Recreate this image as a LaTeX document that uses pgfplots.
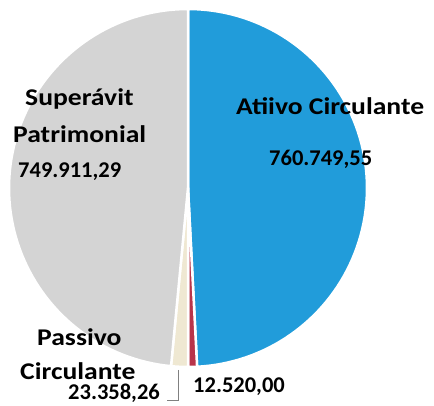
\documentclass[border=0pt]{standalone}
\usepackage{pgfplots}
\usepackage{pgfplotstable}
\pgfplotsset{compat=1.18}
\usepackage{fontspec}
\setmainfont{Carlito}
\newfontfamily\lblfont[FakeStretch=1.15]{Carlito}
\definecolor{cblue}{HTML}{219CDA}
\definecolor{cgray}{HTML}{D4D4D4}
\definecolor{ccream}{HTML}{EFE8D2}
\definecolor{cred}{HTML}{B8344A}
\tikzset{
  lbl/.style={anchor=base west, inner sep=0pt, font=\lblfont\bfseries\fontsize{24}{26}\selectfont},
  num/.style={anchor=base west, inner sep=0pt, font=\bfseries\fontsize{22.5}{24}\selectfont},
}
\pgfplotstableread{
value
760749.55
12520.00
23358.26
749911.29
}\piedata
\pgfplotstablegetelem{0}{value}\of\piedata \let\vA\pgfplotsretval
\pgfplotstablegetelem{1}{value}\of\piedata \let\vB\pgfplotsretval
\pgfplotstablegetelem{2}{value}\of\piedata \let\vC\pgfplotsretval
\pgfplotstablegetelem{3}{value}\of\piedata \let\vD\pgfplotsretval
\edef\tot{\fpeval{\vA+\vB+\vC+\vD}}
\edef\aA{90}
\edef\aB{\fpeval{round(\aA-360*\vA/\tot,4)}}
\edef\aC{\fpeval{round(\aB-360*\vB/\tot,4)}}
\edef\aD{\fpeval{round(\aC-360*\vC/\tot,4)}}
\edef\aE{\fpeval{round(\aD-360*\vD/\tot,4)}}
\begin{document}%
\begin{tikzpicture}
\begin{axis}[
  x=1pt, y=1pt,
  xmin=-188, xmax=246, ymin=-218, ymax=188,
  enlargelimits=false,
  hide axis, clip=false,
]
\coordinate (bl) at (axis cs:-188,-218);
\coordinate (tr) at (axis cs:246,188);
\addplot[fill=cblue, draw=white, line width=2.5pt, line join=round, domain=\aB:\aA, samples=90, variable=\t]
  ({179*cos(\t)},{179*sin(\t)}) -- (axis cs:0,0) -- cycle;
\addplot[fill=cred, draw=white, line width=2.5pt, line join=round, domain=\aC:\aB, samples=10, variable=\t]
  ({179*cos(\t)},{179*sin(\t)}) -- (axis cs:0,0) -- cycle;
\addplot[fill=ccream, draw=white, line width=2.5pt, line join=round, domain=\aD:\aC, samples=10, variable=\t]
  ({179*cos(\t)},{179*sin(\t)}) -- (axis cs:0,0) -- cycle;
\addplot[fill=cgray, draw=white, line width=2.5pt, line join=round, domain=\aE:\aD, samples=90, variable=\t]
  ({179*cos(\t)},{179*sin(\t)}) -- (axis cs:0,0) -- cycle;
\addplot[gray, line width=0.8pt] coordinates {(-10,-182) (-10,-212) (-21,-212)};
\node[lbl] at (axis cs:-163,82) {Superávit};
\node[lbl] at (axis cs:-175,45) {Patrimonial};
\node[num] at (axis cs:-170,10) {749.911,29};
\node[lbl] at (axis cs:48,73) {Atiivo Circulante};
\node[num] at (axis cs:81,22) {760.749,55};
\node[lbl] at (axis cs:-151,-158) {Passivo};
\node[lbl] at (axis cs:-168,-192) {Circulante};
\node[num] at (axis cs:-120,-212) {23.358,26};
\node[num] at (axis cs:5,-205) {12.520,00};
\end{axis}
\pgfresetboundingbox
\useasboundingbox (bl) rectangle (tr);
\end{tikzpicture}%
\end{document}
